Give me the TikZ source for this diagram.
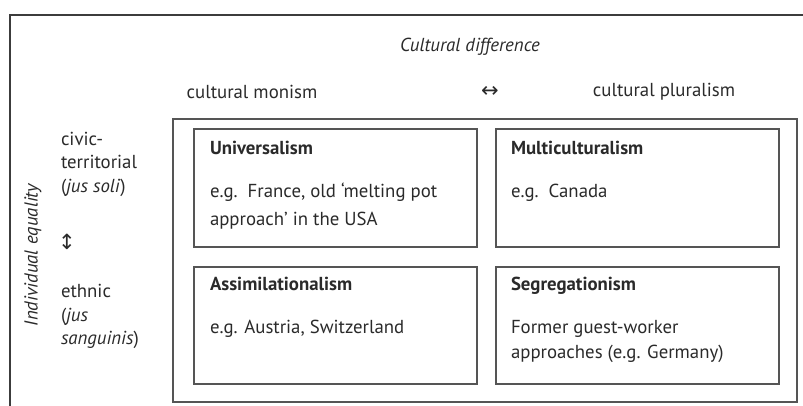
\documentclass[tikz,border=0pt]{standalone}
\usepackage{fontspec}
\setmainfont{PT Sans}
\newfontfamily\symfont{DejaVu Sans}
\definecolor{frameline}{HTML}{3C3C3C}
\definecolor{boxline}{HTML}{555555}
\definecolor{txt}{HTML}{2A2A2A}
\begin{document}
\begin{tikzpicture}[x=1pt,y=-1pt,
  every node/.style={inner sep=0pt,outer sep=0pt,text=txt,font=\fontsize{18.8}{22}\selectfont},
  cellbox/.style={draw=boxline,line width=1.4pt,minimum width=283pt,minimum height=118pt},
  bigbox/.style={draw=boxline,line width=1.4pt,minimum width=624pt,minimum height=283pt},
  lbl/.style={anchor=mid west},
  ttl/.style={anchor=mid west,font=\fontsize{18.8}{22}\selectfont\bfseries},
  ital/.style={font=\fontsize{18.8}{22}\selectfont\itshape},
  sym/.style={font=\fontsize{21}{22}\selectfont\symfont}]
\useasboundingbox (0,0) rectangle (803,406);
% outer frame (cropped)
\coordinate (ftop) at (803,15);
\coordinate (fcorner) at (10,15);
\coordinate (fbottom) at (10,406);
\draw[frameline,line width=1.3pt] (ftop) -- (fcorner) -- (fbottom);
% top labels
\node[ital] (cd) at (470,47) {Cultural difference};
\node (mon) at (252,92) {cultural monism};
\node[sym] (harr) at (490,92) {↔};
\node (plu) at (664,92) {cultural pluralism};
% left labels
\node[ital,rotate=90] (ie) at (33,255) {Individual equality};
\node[lbl] (l1) at (61,143) {civic-};
\node[lbl] (l2) at (61,166) {territorial};
\node[lbl] (l3) at (61,190) {(\textit{jus soli})};
\node[sym] (varr) at (67,242) {↕};
\node[lbl] (l4) at (61,295) {ethnic};
\node[lbl] (l5) at (61,319) {(\textit{jus}};
\node[lbl] (l6) at (61,342) {\textit{sanguinis})};
% boxes
\node[bigbox] (big) at (485,260.5) {};
\node[cellbox] (uni) at (335.5,188) {};
\node[cellbox] (mul) at (637.5,188) {};
\node[cellbox,minimum height=117pt] (ass) at (335.5,325.5) {};
\node[cellbox,minimum height=117pt] (seg) at (637.5,325.5) {};
% box texts
\node[ttl] (unit) at (210,152) {Universalism};
\node[lbl] (uni1) at (210,195) {e.g.\ \ France, old ‘melting pot};
\node[lbl] (uni2) at (210,223) {approach’ in the USA};
\node[ttl] (mult) at (511,152) {Multiculturalism};
\node[lbl] (mul1) at (511,195) {e.g.\ \ Canada};
\node[ttl] (asst) at (210,288) {Assimilationalism};
\node[lbl] (ass1) at (210,331) {e.g. Austria, Switzerland};
\node[ttl] (segt) at (511,288) {Segregationism};
\node[lbl] (seg1) at (511,331) {Former guest-worker};
\node[lbl] (seg2) at (511,356) {approaches (e.g. Germany)};
\end{tikzpicture}
\end{document}
